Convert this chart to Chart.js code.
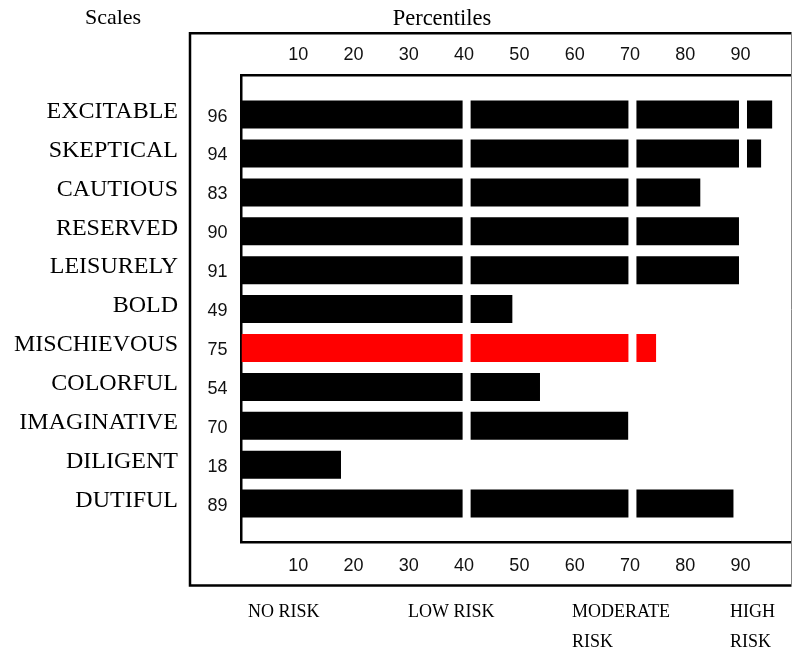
<!DOCTYPE html>
<html>
<head>
<meta charset="utf-8">
<title>Percentiles</title>
<script src="https://cdn.jsdelivr.net/npm/chart.js@4"></script>
<style>
  html, body { margin: 0; padding: 0; background: #fff; }
  canvas { display: block; }
</style>
</head>
<body>
<canvas id="main_chart" width="793" height="651"></canvas>
<script>
const scaleNames = ['EXCITABLE', 'SKEPTICAL', 'CAUTIOUS', 'RESERVED', 'LEISURELY', 'BOLD',
  'MISCHIEVOUS', 'COLORFUL', 'IMAGINATIVE', 'DILIGENT', 'DUTIFUL'];
const percentiles = [96, 94, 83, 90, 91, 49, 75, 54, 70, 18, 89];
const highlighted = 'MISCHIEVOUS';
const tickValues = [10, 20, 30, 40, 50, 60, 70, 80, 90];
const breakValues = [40, 70, 90];
const riskLabels = [['NO RISK'], ['LOW RISK'], ['MODERATE', 'RISK'], ['HIGH', 'RISK']];

const SERIF = '"Liberation Serif", "Times New Roman", serif';
const SANS = '"Liberation Sans", Arial, sans-serif';

// white cuts through the bars, the box around everything and the loose texts
const framePlugin = {
  id: 'frame',
  afterDatasetsDraw(chart) {
    const { ctx, chartArea } = chart;
    const x = chart.scales.x;
    ctx.save();
    ctx.fillStyle = '#fff';
    breakValues.forEach((v) => {
      const px = x.getPixelForValue(v);
      ctx.fillRect(px, chartArea.top + 3, 8, chartArea.height - 6);
    });
    ctx.restore();
  },
  afterDraw(chart) {
    const { ctx, chartArea } = chart;
    const left = chart.scales.yValues.left;
    const top = chart.scales.xTop.top;
    const bottom = chart.scales.x.bottom;
    const right = chartArea.right;
    ctx.save();
    ctx.strokeStyle = '#000';
    ctx.lineWidth = 2.5;
    ctx.beginPath();
    ctx.moveTo(right, top);
    ctx.lineTo(left, top);
    ctx.lineTo(left, bottom);
    ctx.lineTo(right, bottom);
    ctx.stroke();
    // the right side is only a thin grey line
    ctx.strokeStyle = '#888';
    ctx.lineWidth = 1;
    ctx.beginPath();
    ctx.moveTo(right, top);
    ctx.lineTo(right, bottom);
    ctx.stroke();

    ctx.fillStyle = '#000';
    ctx.textBaseline = 'alphabetic';
    ctx.font = '22px ' + SERIF;
    ctx.textAlign = 'center';
    ctx.fillText('Scales', 113, 24);
    ctx.font = '22.5px ' + SERIF;
    ctx.fillText('Percentiles', 442, 25);

    ctx.font = '18px ' + SERIF;
    ctx.textAlign = 'left';
    const riskX = [248, 408, 572, 730];
    riskLabels.forEach((lines, i) => {
      lines.forEach((line, j) => {
        ctx.fillText(line, riskX[i], 617 + j * 30);
      });
    });
    ctx.restore();
  }
};

function onlyRows(scale) {
  scale.ticks = scaleNames.map((n, i) => ({ value: i }));
}

function onlyTens(scale) {
  scale.ticks = tickValues.map((v) => ({ value: v }));
}

function xAxis(position, height, padding) {
  return {
    type: 'linear',
    position: position,
    min: 0,
    max: 99.5,
    offset: false,
    grid: { drawOnChartArea: false, drawTicks: false, lineWidth: 0 },
    border: { display: true, color: '#000', width: 2.5 },
    afterBuildTicks: onlyTens,
    afterFit: (scale) => { scale.height = height; },
    ticks: {
      color: '#111',
      font: { family: SANS, size: 18 },
      padding: padding,
      labelOffset: 1.5,
      maxRotation: 0,
      autoSkip: false
    }
  };
}

function yAxis(weight, width) {
  return {
    type: 'linear',
    position: 'left',
    weight: weight,
    min: -1,
    max: 11,
    reverse: true,
    offset: false,
    afterBuildTicks: onlyRows,
    afterFit: (scale) => { scale.width = width; }
  };
}

function drawChart() {
  const ctx = document.getElementById('main_chart');

  const rows = percentiles.map((v, i) => ({ x: v, y: i }));
  const colors = scaleNames.map((n) => (n === highlighted ? '#ff0000' : '#000000'));

  // value column sits next to the plot, the scale names further out
  const yValues = yAxis(0, 51.5);
  yValues.grid = { drawOnChartArea: false, drawTicks: false, lineWidth: 0 };
  yValues.border = { display: true, color: '#000', width: 2.5 };
  yValues.ticks = {
    color: '#111',
    font: { family: SANS, size: 18 },
    padding: 14,
    labelOffset: 2,
    autoSkip: false,
    callback: (v) => String(percentiles[v])
  };

  const yNames = yAxis(1, 190);
  yNames.grid = { display: false, drawTicks: false };
  yNames.border = { display: false };
  yNames.ticks = {
    color: '#000',
    font: { family: SERIF, size: 24 },
    padding: 12,
    labelOffset: -3,
    autoSkip: false,
    callback: (v) => scaleNames[v]
  };

  new Chart(ctx, {
    type: 'bar',
    data: {
      datasets: [{
        label: 'Percentiles',
        data: rows,
        backgroundColor: colors,
        borderWidth: 0,
        barPercentage: 0.72,
        categoryPercentage: 1,
        xAxisID: 'x',
        yAxisID: 'yValues'
      }]
    },
    options: {
      indexAxis: 'y',
      responsive: false,
      animation: false,
      devicePixelRatio: 1,
      layout: { padding: { top: 33.3, bottom: 65.5, left: 0, right: 1.5 } },
      plugins: {
        legend: false,
        tooltip: { enabled: false }
      },
      scales: {
        x: xAxis('bottom', 43, 12.5),
        xTop: xAxis('top', 42.4, 10),
        yValues: yValues,
        yNames: yNames
      }
    },
    plugins: [framePlugin]
  });
}

document.addEventListener('DOMContentLoaded', () => {
  drawChart();
});
</script>
</body>
</html>
